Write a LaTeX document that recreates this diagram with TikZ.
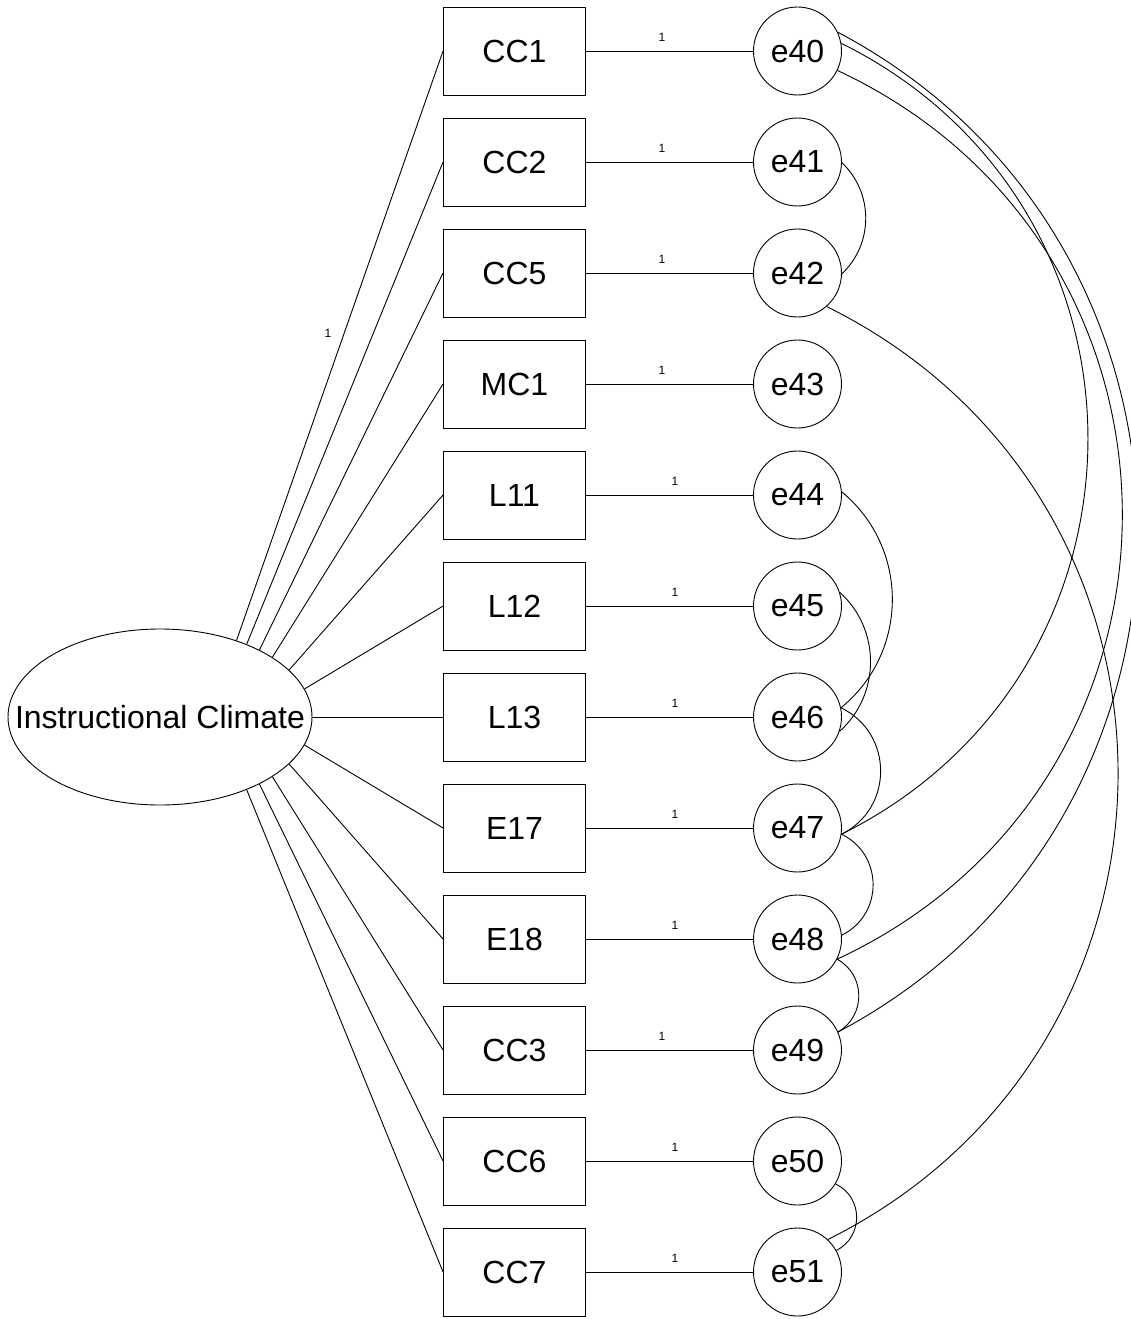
\documentclass[tikz,border=0pt]{standalone}
\usepackage{fontspec}
\setmainfont{Liberation Sans}
\usetikzlibrary{shapes.geometric}

\tikzset{
  conn/.style={line width=0.9pt, draw=black},
  obs/.style={draw, line width=0.9pt, rectangle, minimum width=142pt, minimum height=88pt,
              inner sep=0pt, font=\fontsize{32}{38}\selectfont},
  err/.style={draw, line width=0.9pt, circle, minimum size=88pt, inner sep=0pt,
              font=\fontsize{32}{38}\selectfont},
  lat/.style={draw, line width=0.9pt, ellipse, minimum width=304pt, minimum height=176pt,
              inner sep=0pt},
  lattext/.style={inner sep=0pt, font=\fontsize{32}{38}\selectfont},
  wt/.style={inner sep=0pt, font=\fontsize{12}{14}\selectfont},
}

\begin{document}
\begin{tikzpicture}[x=1pt, y=1pt]
  \useasboundingbox (0,0) rectangle (1131,-1319);
  \clip (0,0) rectangle (1131,-1319);

  % latent factor
  \node[lat] (IC) at (160,-717) {};
  \node[lattext] (ICtext) at (IC.center) {Instructional Climate};

  % indicators, their error terms and paths
  \foreach \ob/\er/\an/\lx [count=\i from 0] in {
      CC1/e40/45/662, CC2/e41/40/662, CC5/e42/34/662, MC1/e43/28/662,
      L11/e44/20/675, L12/e45/11/675, L13/e46/0/675, E17/e47/-11/675,
      E18/e48/-20/675, CC3/e49/-28/662, CC6/e50/-34/675, CC7/e51/-40/675}
  {
    \pgfmathsetmacro\yy{-51-111*\i}
    \node[obs] (\ob) at (514.5,\yy) {\ob};
    \node[err] (\er) at (797.5,\yy) {\er};
    \draw[conn] (IC.\an) -- (\ob.west);
    \draw[conn] (\ob.east) -- (\er.west);
    \node[wt] (w\i) at (\lx,\yy+13.5) {1};
  }

  % fixed loading label
  \node[wt] (wIC) at (328,-333) {1};

  % covariances between error terms
  \draw[conn] (e41.-1) to[bend left=46.5, looseness=1.01] (e42.-1);
  \draw[conn] (e44.4) to[bend left=50.6, looseness=1.04] (e46.12);
  \draw[conn] (e45.18) to[bend left=47.8, looseness=1.02] (e46.-19);
  \draw[conn] (e46.12) to[bend left=64, looseness=1.18] (e47.-8);
  \draw[conn] (e47.-8) to[bend left=64, looseness=1.18] (e48.5);
  \draw[conn] (e48.-27) to[bend left=60.5, looseness=1.14] (e49.24);
  \draw[conn] (e50.-31) to[bend left=63.6, looseness=1.18] (e51.29);
  \draw[conn] (e40.10) to[bend left=63.6, looseness=1.19] (e47.-8);
  \draw[conn] (e40.-26) to[bend left=65, looseness=1.21] (e48.-27);
  \draw[conn] (e40.25) to[bend left=62.1, looseness=1.16] (e49.24);
  \draw[conn] (e42.-49) to[bend left=63.6, looseness=1.19] (e51.47);
\end{tikzpicture}
\end{document}
